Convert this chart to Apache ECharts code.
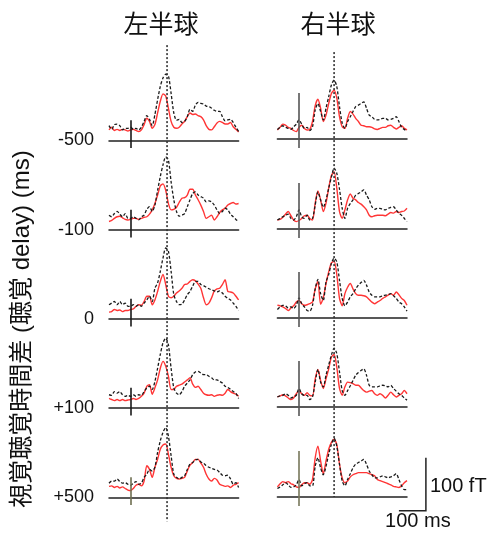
<!DOCTYPE html>
<html><head><meta charset="utf-8">
<script src="https://cdn.jsdelivr.net/npm/echarts@6/dist/echarts.min.js"></script>
<style>html,body{margin:0;padding:0;background:#fff}#c{width:489px;height:533px}</style>
</head><body><div id="c"></div>
<script>
// ---- data (time in ms relative to onset, amplitude in fT) ----
const times = [-80,-70,-60,-50,-40,-30,-20,-10,0,10,20,30,40,50,60,70,80,90,100,110,120,130,140,150,160,170,180,190,200,210,220,230,240,250,260,270,280,290,300,310,320,330,340,350,360,370,380,390,400];
const hemispheres = ['左半球','右半球'];
const delayLabels = ['-500','-100','0','+100','+500'];
const yAxisTitle = '視覚聴覚時間差 (聴覚 delay) (ms)';
const onsetTime = 0;
const peakTimes = [135, 130];
const scaleBarFT = 100;
const scaleBarMS = 100;

// left hemisphere
const L1_red   = [20,25,19,21,19,21,20,18,20, 21,19,17,20,30,42,36,23,30,52, 74,88,84,61,36,25,23,25,31,36, 45,52,49,50,47,45,39,28,21,20, 26,33,36,34,31,31,34,26,21,16];
const L1_black = [28,21,30,31,28,20,23,23,25, 21,23,20,25,36,47,40,28,49,77, 102,118,125,122,89,52,38,40,34,36, 45,59,55,67,72,70,69,65,64,61, 57,55,55,45,37,39,40,34,25,17];
const L2_red   = [16,18,22,25,26,23,20,19,20, 22,22,20,22,24,25,30,38,50,66, 83,87,75,50,38,39,43,52,60,61, 66,77,77,66,57,47,35,22,25,28, 19,25,33,38,41,47,50,52,49,50];
const L2_black = [28,25,31,35,30,25,31,22,22, 25,22,19,25,28,39,44,35,47,75, 101,123,138,132,91,57,35,26,28,31, 44,57,69,72,66,63,60,53,55,53, 47,38,31,35,41,38,30,25,20,16];
const L3_red   = [13,14,18,16,17,14,16,16,18, 19,24,27,26,33,43,43,27,36,52, 71,84,65,43,40,43,49,53,58,65, 66,71,74,72,66,58,40,27,30,40, 53,57,58,65,74,52,51,49,43,36];
const L3_black = [27,30,33,27,33,27,30,24,24, 27,24,27,24,30,36,43,33,58,68, 90,115,134,128,90,46,33,27,28,36, 46,52,62,71,71,65,63,60,57,55, 53,51,53,49,43,39,36,30,24,16];
const L4_red   = [18,16,14,16,14,16,14,15,16, 18,16,18,22,28,41,44,26,38,53, 75,88,79,60,35,35,41,43,45,49, 53,57,45,39,41,35,28,25,24,25, 22,24,25,24,28,35,31,28,26,22];
const L4_black = [25,24,31,28,31,25,22,24,22, 25,22,25,24,31,38,41,35,50,75, 101,123,132,119,75,38,28,25,31,41, 47,53,63,68,69,66,63,63,60,57, 53,53,50,47,41,39,35,31,28,18];
const L5_red   = [21,22,19,21,18,20,17,14,13, 17,23,25,22,31,60,53,38,57,72, 91,99,101,82,57,41,36,35,36,38, 50,61,66,72,72,65,57,44,35,31, 36,33,25,23,21,22,19,23,25,28];
const L5_black = [27,31,31,35,30,27,28,25,23, 27,30,25,27,38,44,53,50,57,85, 107,123,132,116,79,44,38,35,38,41, 53,63,66,71,72,67,65,60,57,55, 53,52,47,42,41,42,35,25,28,19];
// right hemisphere
const R1_red   = [17,22,28,26,22,20,16,14,22, 26,20,17,18,33,63,75,58,33,45, 67,86,92,77,42,23,20,39,52,47, 39,33,26,25,23,23,22,19,18,20, 22,22,25,26,22,19,22,25,20,17];
const R1_black = [18,22,25,22,20,18,23,28,36, 28,20,22,16,23,55,67,52,36,58, 80,102,111,99,61,30,20,33,42,52, 61,64,67,70,58,45,42,37,36,37, 39,39,36,37,39,42,33,22,18,14];
const R2_red   = [17,18,22,28,33,25,17,14,16, 20,25,26,20,17,49,72,55,33,49, 77,101,108,77,33,20,36,55,66,58, 55,50,47,42,36,26,23,25,26,26, 26,25,28,31,30,33,31,33,34,39];
const R2_black = [17,20,23,26,28,20,17,23,36, 23,20,26,17,20,45,70,55,41,55, 77,98,115,105,75,39,20,39,48,55, 64,67,70,74,64,55,42,37,39,39, 37,36,39,41,42,36,30,26,20,14];
const R3_red   = [24,23,21,18,14,19,23,30,33, 27,24,25,27,30,55,69,26,38,65, 87,104,107,82,37,23,46,58,65,55, 46,43,43,42,40,35,30,27,30,33, 37,40,43,46,43,49,44,37,33,24];
const R3_black = [16,21,24,23,19,21,18,24,38, 27,21,14,13,24,55,73,46,33,68, 82,103,113,106,71,37,23,30,40,46, 55,62,67,71,62,49,43,40,40,40, 42,43,44,46,42,37,30,27,21,13];
const R4_red   = [19,21,23,21,17,14,17,25,31, 25,22,27,22,21,53,71,50,35,53, 72,94,99,75,35,22,38,47,46,44, 41,41,36,31,28,30,31,25,22,25, 22,17,22,28,23,19,22,25,31,25];
const R4_black = [19,21,22,25,22,17,19,22,35, 25,22,22,14,19,47,71,47,38,60, 79,98,111,101,66,31,22,31,40,50, 60,65,69,72,60,41,38,38,38,40, 41,40,38,41,35,30,25,22,17,13];
const R5_red   = [19,25,29,27,29,25,23,19,18, 23,27,27,24,33,74,96,68,44,68, 90,103,109,99,62,36,27,30,38,42, 44,46,46,46,46,44,42,40,33,31, 29,27,25,23,20,19,18,21,27,31];
const R5_black = [16,19,23,27,23,18,19,23,33, 21,25,27,21,21,58,74,55,42,58, 81,99,111,96,62,30,21,33,44,55, 62,65,68,71,62,49,42,36,36,38, 40,38,36,38,40,44,33,21,14,14];

const redTraces   = [[L1_red,L2_red,L3_red,L4_red,L5_red],[R1_red,R2_red,R3_red,R4_red,R5_red]];
const blackTraces = [[L1_black,L2_black,L3_black,L4_black,L5_black],[R1_black,R2_black,R3_black,R4_black,R5_black]];

// ---- layout ----
const colLeft = [109, 277.4];
const panelW = 129.6;
const pxPerFT = 0.53;
const baselines = [[140.5,230,319,408,497.5],[139,229,318,407,497]];
const yMin = -20, yMax = 160;
const onsetSpan = [[-14, 38],[-17, 87]];
const onsetColors = [['#1a1a1a','#1a1a1a','#1a1a1a','#1a1a1a','#6e6e50'],['#555','#555','#555','#555','#77775a']];
const FONT_LATIN = '"Liberation Sans", Arial, ';
const FONT_CJK = '"Noto Sans CJK JP", "Noto Sans CJK SC", sans-serif';

const chart = echarts.init(document.getElementById('c'), null, {renderer:'canvas'});
const grid = [], xAxis = [], yAxis = [], series = [];
for (let c = 0; c < 2; c++) {
  for (let r = 0; r < 5; r++) {
    const idx = c*5 + r;
    const base = baselines[c][r];
    grid.push({left: colLeft[c], width: panelW, top: base - yMax*pxPerFT, height: (yMax - yMin)*pxPerFT});
    xAxis.push({type:'value', gridIndex: idx, min: times[0], max: times[times.length-1],
      axisLine:{show:true, onZero:true, lineStyle:{color:'#222', width:1.5}},
      axisTick:{show:false}, axisLabel:{show:false}, splitLine:{show:false}});
    yAxis.push({type:'value', gridIndex: idx, min: yMin, max: yMax, show:false, splitLine:{show:false}});
    series.push({type:'line', xAxisIndex: idx, yAxisIndex: idx, animation:false, symbol:'none', smooth:0.25,
      data: times.map((t,i)=>[t, redTraces[c][r][i]]),
      lineStyle:{color:'#ff3535', width:1.4},
      markLine:{silent:true, animation:false, symbol:['none','none'], label:{show:false},
        lineStyle:{color:onsetColors[c][r], width:1.6, type:'solid'},
        data:[[{coord:[onsetTime, onsetSpan[c][0]]},{coord:[onsetTime, onsetSpan[c][1]]}]]}});
    series.push({type:'line', xAxisIndex: idx, yAxisIndex: idx, animation:false, symbol:'none', smooth:0.25,
      data: times.map((t,i)=>[t, blackTraces[c][r][i]]),
      lineStyle:{color:'#1a1a1a', width:1.3, type:[3,2]}});
  }
}
chart.setOption({animation:false, grid, xAxis, yAxis, series});

// ---- annotations positioned through the axes ----
const g = [];
const peakTop = [180, 164], peakBottom = [-45, 0];
for (let c = 0; c < 2; c++) {
  const p1 = chart.convertToPixel({gridIndex: c*5}, [peakTimes[c], peakTop[c]]);
  const p2 = chart.convertToPixel({gridIndex: c*5+4}, [peakTimes[c], peakBottom[c]]);
  g.push({type:'line', shape:{x1:p1[0], y1:p1[1], x2:p2[0], y2:p2[1]}, style:{stroke:'#333', lineWidth:1.6, lineDash:[2,2]}, z:10});
  g.push({type:'text', x: c===0 ? 161 : 338, y: 23, style:{text: hemispheres[c], font:'25px '+FONT_CJK, fill:'#111', textAlign:'center', textVerticalAlign:'middle'}});
}
for (let r = 0; r < 5; r++) {
  const p = chart.convertToPixel({gridIndex: r}, [times[0], 0]);
  g.push({type:'text', x: 94, y: p[1], style:{text: delayLabels[r], font:'18px '+FONT_LATIN+'sans-serif', fill:'#111', textAlign:'right', textVerticalAlign:'middle'}});
}
g.push({type:'text', x: 22, y: 329, rotation: Math.PI/2, style:{text: yAxisTitle, font:'24px '+FONT_LATIN+FONT_CJK, fill:'#111', textAlign:'center', textVerticalAlign:'middle'}});
// scale bar (drawn in data units of the last right panel)
const sbT = 470, sbY = -26;
const s0 = chart.convertToPixel({gridIndex: 9}, [sbT, sbY]);
const s1 = chart.convertToPixel({gridIndex: 9}, [sbT, sbY + scaleBarFT]);
const s2 = chart.convertToPixel({gridIndex: 9}, [sbT - scaleBarMS, sbY]);
g.push({type:'polyline', shape:{points:[[s1[0],s1[1]],[s0[0],s0[1]],[s2[0],s2[1]]]}, style:{stroke:'#222', lineWidth:1.5, fill:null}});
g.push({type:'text', x: s0[0]+4, y: (s0[1]+s1[1])/2 + 2, style:{text: scaleBarFT + ' fT', font:'20px '+FONT_LATIN+'sans-serif', fill:'#111', textAlign:'left', textVerticalAlign:'middle'}});
g.push({type:'text', x: s2[0]+19, y: s0[1]+11, style:{text: scaleBarMS + ' ms', font:'20px '+FONT_LATIN+'sans-serif', fill:'#111', textAlign:'center', textVerticalAlign:'middle'}});
chart.setOption({graphic: g});
</script></body></html>
